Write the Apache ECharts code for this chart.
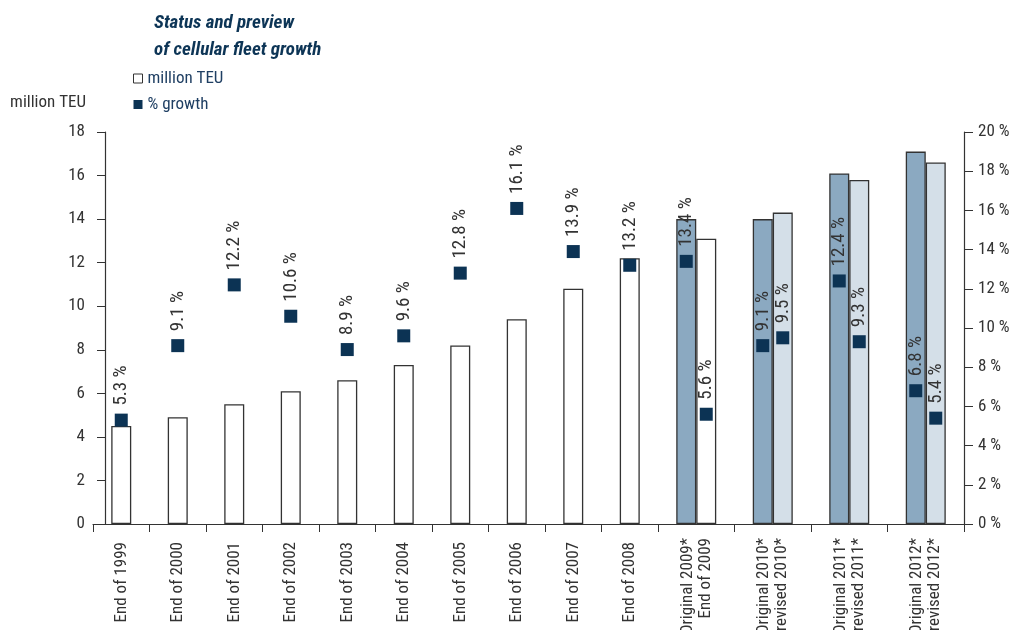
<!DOCTYPE html>
<html>
<head>
<meta charset="utf-8">
<style>
  html, body { margin: 0; padding: 0; background: #fff; }
  #chart { width: 1014px; height: 630px; }
</style>
<script src="https://cdn.jsdelivr.net/npm/echarts@6/dist/echarts.min.js"></script>
</head>
<body>
<div id="chart"></div>
<script>
// Fleet size (million TEU) at year end, 1999-2008
const singleCategories = ['End of 1999', 'End of 2000', 'End of 2001', 'End of 2002', 'End of 2003',
  'End of 2004', 'End of 2005', 'End of 2006', 'End of 2007', 'End of 2008'];
const singleTeu = [4.5, 4.9, 5.5, 6.1, 6.6, 7.3, 8.2, 9.4, 10.8, 12.2];
const singleGrowth = [5.3, 9.1, 12.2, 10.6, 8.9, 9.6, 12.8, 16.1, 13.9, 13.2];

// Original forecast vs. revised / actual, 2009-2012
const pairCategories = ['Original 2009*\nEnd of 2009', 'Original 2010*\nrevised 2010*',
  'Original 2011*\nrevised 2011*', 'Original 2012*\nrevised 2012*'];
const originalTeu = [14.0, 14.0, 16.1, 17.1];
const revisedTeu = [13.1, 14.3, 15.8, 16.6];
const originalGrowth = [13.4, 9.1, 12.4, 6.8];
const revisedGrowth = [5.6, 9.5, 9.3, 5.4];
const revisedIsActual = [true, false, false, false];

const teuTicks = { min: 0, max: 18, interval: 2 };
const pctTicks = { min: 0, max: 20, interval: 2 };

const FONT = "'Liberation Sans Narrow', 'Arial Narrow', 'Roboto Condensed', Roboto, sans-serif";
const INK = '#333333';
const NAVY = '#0c3354';
const BAR_W = 20;

const chart = echarts.init(document.getElementById('chart'));

function categoryAxis(gridIndex, data, margin) {
  return {
    type: 'category',
    gridIndex: gridIndex,
    data: data,
    boundaryGap: true,
    axisLine: { lineStyle: { color: INK, width: 1.2 } },
    axisTick: { show: true, length: 8, lineStyle: { color: INK } },
    axisLabel: { rotate: 90, margin: margin, fontSize: 17, color: INK, fontFamily: FONT, lineHeight: 18 }
  };
}

const growthLabel = {
  show: true,
  position: 'top',
  distance: 8,
  rotate: 90,
  align: 'left',
  verticalAlign: 'middle',
  fontSize: 19,
  color: INK,
  fontFamily: FONT,
  formatter: p => p.value + ' %'
};

const growthStyle = { color: NAVY, opacity: 1 };

const gridBase = { top: 132, bottom: 630 - 524, containLabel: false, outerBoundsMode: 'none' };

const option = {
  animation: false,
  textStyle: { fontFamily: FONT },
  title: {
    text: 'Status and preview\nof cellular fleet growth',
    left: 149,
    top: 5,
    textStyle: { fontSize: 19, fontWeight: 'bold', fontStyle: 'italic', color: '#0d3556', lineHeight: 27, fontFamily: FONT }
  },
  legend: {
    orient: 'vertical',
    left: 128,
    top: 65,
    itemWidth: 9,
    itemHeight: 9,
    itemGap: 9,
    icon: 'rect',
    textStyle: { fontSize: 17, color: '#1f3f63', fontFamily: FONT },
    data: [
      { name: 'million TEU', itemStyle: { color: '#ffffff', borderColor: INK, borderWidth: 1 } },
      { name: '% growth', itemStyle: { color: NAVY, opacity: 1 } }
    ]
  },
  grid: [
    Object.assign({ left: 93, right: 1014 - 658 }, gridBase),
    Object.assign({ left: 658, right: 1014 - 964 }, gridBase)
  ],
  xAxis: [
    categoryAxis(0, singleCategories, 18),
    categoryAxis(1, pairCategories, 14)
  ],
  yAxis: [
    {
      type: 'value', gridIndex: 0, position: 'left', offset: -12,
      min: teuTicks.min, max: teuTicks.max, interval: teuTicks.interval,
      name: 'million TEU', nameLocation: 'end', nameGap: 29,
      nameTextStyle: { fontSize: 17, color: INK, align: 'right', verticalAlign: 'middle', padding: [0, 19, 0, 0], fontFamily: FONT },
      axisLine: { show: true, lineStyle: { color: INK, width: 1.2 } },
      axisTick: { show: true, length: 8, lineStyle: { color: INK } },
      axisLabel: { margin: 20, fontSize: 17, color: INK, fontFamily: FONT },
      splitLine: { show: false }
    },
    {
      type: 'value', gridIndex: 0, show: false,
      min: pctTicks.min, max: pctTicks.max, interval: pctTicks.interval, splitLine: { show: false }
    },
    {
      type: 'value', gridIndex: 1, show: false,
      min: teuTicks.min, max: teuTicks.max, interval: teuTicks.interval, splitLine: { show: false }
    },
    {
      type: 'value', gridIndex: 1, position: 'right',
      min: pctTicks.min, max: pctTicks.max, interval: pctTicks.interval,
      axisLine: { show: true, lineStyle: { color: INK, width: 1.2 } },
      axisTick: { show: true, length: 9, lineStyle: { color: INK } },
      axisLabel: { margin: 14, fontSize: 17, color: INK, fontFamily: FONT, formatter: '{value} %' },
      splitLine: { show: false }
    }
  ],
  series: [
    {
      name: 'million TEU', type: 'bar', xAxisIndex: 0, yAxisIndex: 0,
      barWidth: BAR_W, data: singleTeu,
      itemStyle: { color: '#ffffff', borderColor: INK, borderWidth: 1.3 }
    },
    {
      name: 'Original', type: 'bar', xAxisIndex: 1, yAxisIndex: 2,
      barWidth: BAR_W, barGap: '0%', data: originalTeu,
      itemStyle: { color: '#8ba9c1', borderColor: INK, borderWidth: 1.3 }
    },
    {
      name: 'Revised', type: 'bar', xAxisIndex: 1, yAxisIndex: 2,
      barWidth: BAR_W, barGap: '0%', data: revisedTeu,
      itemStyle: {
        color: p => (revisedIsActual[p.dataIndex] ? '#ffffff' : '#d4dfe8'),
        borderColor: INK, borderWidth: 1.3
      }
    },
    {
      name: '% growth', type: 'scatter', xAxisIndex: 0, yAxisIndex: 1,
      symbol: 'rect', symbolSize: 13, data: singleGrowth,
      itemStyle: growthStyle, label: growthLabel, z: 5
    },
    {
      name: '% growth', type: 'scatter', xAxisIndex: 1, yAxisIndex: 3,
      symbol: 'rect', symbolSize: 13, symbolOffset: [-BAR_W / 2, 0], data: originalGrowth,
      itemStyle: growthStyle, label: growthLabel, z: 5
    },
    {
      name: '% growth', type: 'scatter', xAxisIndex: 1, yAxisIndex: 3,
      symbol: 'rect', symbolSize: 13, symbolOffset: [BAR_W / 2, 0], data: revisedGrowth,
      itemStyle: growthStyle, label: growthLabel, z: 5
    }
  ]
};

chart.setOption(option);
</script>
</body>
</html>
